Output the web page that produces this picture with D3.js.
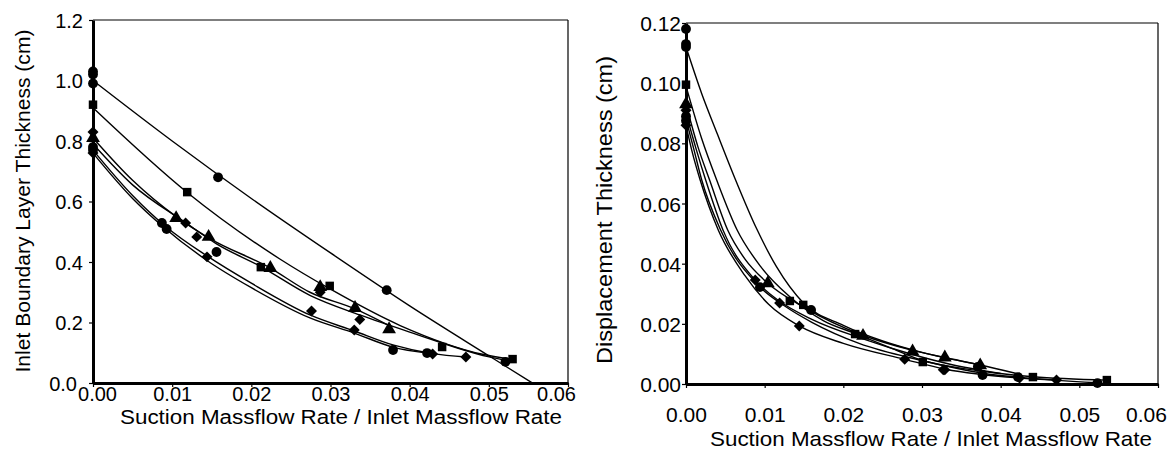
<!DOCTYPE html>
<html>
<head>
<meta charset="utf-8">
<script src="https://cdn.jsdelivr.net/npm/d3@7"></script>
<style>
  html, body { margin: 0; padding: 0; background: #fff; }
  svg text { font-family: "Liberation Sans", Arial, Helvetica, sans-serif; fill: #000; }
</style>
</head>
<body>
<svg id="chart" width="1167" height="458"></svg>
<script>
// ---------------- data ----------------
const xTicks = [0, 0.01, 0.02, 0.03, 0.04, 0.05, 0.06];
const leftYTicks = [0, 0.2, 0.4, 0.6, 0.8, 1.0, 1.2];
const rightYTicks = [0, 0.02, 0.04, 0.06, 0.08, 0.10, 0.12];
const xTitle = "Suction Massflow Rate / Inlet Massflow Rate";
const leftYTitle = "Inlet Boundary Layer Thickness (cm)";
const rightYTitle = "Displacement Thickness (cm)";

const shapes = ["circle", "square", "triangle", "diamond", "diamond", "circle"];

// measured points, left panel (boundary layer thickness, cm)
const leftPts = [
  [[0, 1.03], [0, 1.02], [0, 0.99], [0.0158, 0.68], [0.0371, 0.307]],
  [[0, 0.92], [0.0119, 0.631], [0.0212, 0.383], [0.0299, 0.321], [0.0441, 0.119], [0.0530, 0.079]],
  [[0, 0.81], [0.0105, 0.545], [0.0146, 0.483], [0.0224, 0.380], [0.0287, 0.317], [0.0331, 0.248], [0.0374, 0.178]],
  [[0, 0.83], [0.0117, 0.529], [0.0131, 0.483], [0.0287, 0.300], [0.0337, 0.210]],
  [[0, 0.76], [0.0144, 0.417], [0.0276, 0.238], [0.0330, 0.175], [0.0429, 0.096], [0.0471, 0.086]],
  [[0, 0.78], [0, 0.77], [0.0087, 0.529], [0.0093, 0.509], [0.0156, 0.433], [0.0379, 0.109], [0.0422, 0.099], [0.0521, 0.070]]
];
// fitted curves, left panel
const leftFits = [
  [[0, 1.0], [0.01, 0.80], [0.02, 0.61], [0.03, 0.43], [0.04, 0.255], [0.05, 0.09], [0.0555, 0.0]],
  [[0, 0.91], [0.0119, 0.63], [0.0236, 0.41], [0.03, 0.31], [0.0388, 0.19], [0.0492, 0.095], [0.053, 0.078]],
  [[0, 0.81], [0.005, 0.67], [0.0105, 0.55], [0.0146, 0.48], [0.0224, 0.38], [0.0274, 0.30], [0.0331, 0.245], [0.0374, 0.19]],
  [[0, 0.79], [0.005, 0.655], [0.0117, 0.53], [0.0156, 0.46], [0.0212, 0.385], [0.0274, 0.29], [0.0337, 0.225], [0.0404, 0.165], [0.0499, 0.087], [0.0521, 0.075]],
  [[0, 0.77], [0.005, 0.62], [0.0093, 0.515], [0.0144, 0.42], [0.02, 0.33], [0.0274, 0.225], [0.033, 0.172], [0.038, 0.125], [0.0429, 0.097], [0.0471, 0.086]],
  [[0, 0.76], [0.005, 0.61], [0.0087, 0.52], [0.0144, 0.405], [0.02, 0.315], [0.0274, 0.215], [0.033, 0.165], [0.038, 0.118], [0.0422, 0.099]]
];
// measured points, right panel (displacement thickness, cm)
const rightPts = [
  [[0, 0.118], [0, 0.113], [0, 0.112], [0.0159, 0.0246], [0.0371, 0.0057]],
  [[0, 0.0995], [0.0132, 0.0276], [0.0149, 0.0263], [0.0215, 0.0166], [0.0301, 0.0073], [0.0441, 0.0023], [0.0535, 0.0013]],
  [[0, 0.093], [0.0104, 0.0335], [0.0225, 0.016], [0.0288, 0.0108], [0.0329, 0.0088], [0.0374, 0.0062]],
  [[0, 0.091], [0.0088, 0.0346], [0.0119, 0.0269], [0.0327, 0.0047]],
  [[0, 0.086], [0.0144, 0.0193], [0.0278, 0.0082], [0.0329, 0.0047], [0.0424, 0.0020], [0.0471, 0.0013]],
  [[0, 0.089], [0, 0.0875], [0.0094, 0.0322], [0.0377, 0.0030], [0.0422, 0.0023], [0.0523, 0.0003]]
];
// fitted curves, right panel
const rightFits = [
  [[0, 0.112], [0.002, 0.0965], [0.004, 0.083], [0.0062, 0.0685], [0.009, 0.0515], [0.0115, 0.039], [0.0149, 0.027], [0.02, 0.0195], [0.025, 0.0143], [0.03, 0.0105], [0.0371, 0.0065]],
  [[0, 0.099], [0.002, 0.0815], [0.0039, 0.0678], [0.0065, 0.0512], [0.0095, 0.039], [0.0132, 0.029], [0.0175, 0.021], [0.0215, 0.0168], [0.026, 0.012], [0.0301, 0.0078], [0.037, 0.0045], [0.0441, 0.0024], [0.0535, 0.0013]],
  [[0, 0.093], [0.0015, 0.079], [0.003, 0.0678], [0.0053, 0.0512], [0.0075, 0.0415], [0.0104, 0.0335], [0.015, 0.0255], [0.0225, 0.0162], [0.0288, 0.0112], [0.0329, 0.0088], [0.0374, 0.0063], [0.042, 0.0035]],
  [[0, 0.090], [0.0013, 0.078], [0.0025, 0.0678], [0.0047, 0.0512], [0.0088, 0.0345], [0.0119, 0.0275], [0.016, 0.0215], [0.0225, 0.015], [0.0288, 0.0098], [0.0337, 0.0065], [0.04, 0.0035]],
  [[0, 0.086], [0.0008, 0.077], [0.0018, 0.0678], [0.0041, 0.0512], [0.0075, 0.036], [0.0105, 0.0265], [0.0144, 0.0193], [0.02, 0.0135], [0.0278, 0.0082], [0.033, 0.0049], [0.0424, 0.002], [0.0471, 0.0013]],
  [[0, 0.088], [0.001, 0.078], [0.002, 0.0678], [0.0044, 0.0512], [0.0093, 0.0325], [0.0125, 0.026], [0.016, 0.0205], [0.022, 0.0135], [0.03, 0.0078], [0.0379, 0.0035], [0.0422, 0.0023], [0.0523, 0.0004]]
];

// ---------------- drawing ----------------
const svg = d3.select("#chart");

const panels = [
  { x0: 93, x1: 568, yBot: 383, yTop: 20, yMax: 1.2, yTicks: leftYTicks, yFmt: d3.format(".1f"),
    pts: leftPts, fits: leftFits, yTitle: leftYTitle, yTitleX: 23, yTitleC: 201, font: 20,
    tickLabelDy: 18, xTitleY: 424, xTitleX0: 120, xTitleX1: 562, yLabelGap: 10, yTitleLen: 343, yTitleFont: 20.5,
    firstXdx: 4, firstYdx: -6 },
  { x0: 686, x1: 1158, yBot: 384, yTop: 23, yMax: 0.12, yTicks: rightYTicks, yFmt: d3.format(".2f"),
    pts: rightPts, fits: rightFits, yTitle: rightYTitle, yTitleX: 604, yTitleC: 210, font: 21,
    tickLabelDy: 38, xTitleY: 446, xTitleX0: 710, xTitleX1: 1152, yLabelGap: 5, yTitleLen: 308, yTitleFont: 22,
    firstXdx: 0, firstYdx: 0 }
];

const symbolFor = {
  circle: d3.symbol().type(d3.symbolCircle).size(76),
  square: d3.symbol().type(d3.symbolSquare).size(72),
  triangle: d3.symbol().type(d3.symbolTriangle).size(82),
  diamond: d3.symbol().type(d3.symbolSquare).size(60)
};

panels.forEach(p => {
  const x = d3.scaleLinear().domain([0, 0.06]).range([p.x0, p.x1]);
  const y = d3.scaleLinear().domain([0, p.yMax]).range([p.yBot, p.yTop]);
  const g = svg.append("g");

  // frame: thin top and right borders
  g.append("line").attr("x1", x(0)).attr("x2", x(0.06)).attr("y1", y(p.yMax)).attr("y2", y(p.yMax))
    .attr("stroke", "#000").attr("stroke-width", 1.2);
  g.append("line").attr("x1", x(0.06)).attr("x2", x(0.06)).attr("y1", y(p.yMax)).attr("y2", y(0))
    .attr("stroke", "#000").attr("stroke-width", 1.2);

  // fitted curves
  const line = d3.line().x(d => x(d[0])).y(d => y(d[1])).curve(d3.curveMonotoneX);
  p.fits.forEach(f => {
    g.append("path").attr("d", line(f)).attr("fill", "none")
      .attr("stroke", "#000").attr("stroke-width", 1.4);
  });

  // markers
  p.pts.forEach((s, i) => {
    const shape = shapes[i];
    g.append("g").selectAll("path").data(s).join("path")
      .attr("d", symbolFor[shape]())
      .attr("transform", d => `translate(${x(d[0])},${y(d[1])})` + (shape === "diamond" ? " rotate(45)" : ""))
      .attr("fill", "#000");
  });

  // axes
  const xAxis = d3.axisBottom(x).tickValues(xTicks).tickFormat(d3.format(".2f")).tickSize(4).tickSizeOuter(0);
  const gx = g.append("g").attr("transform", `translate(0,${y(0)})`).call(xAxis);
  gx.select(".domain").attr("stroke-width", 3);
  gx.selectAll(".tick line").attr("stroke-width", 1.2);
  gx.selectAll(".tick text").attr("font-size", p.font).attr("y", p.tickLabelDy).attr("dy", 0)
    .attr("font-family", "Liberation Sans, Arial, sans-serif")
    .attr("dx", (d, i) => i === xTicks.length - 1 ? -12 : (i === 0 ? p.firstXdx : 0));

  const yAxis = d3.axisLeft(y).tickValues(p.yTicks).tickFormat(p.yFmt).tickSize(4).tickSizeOuter(0);
  const gy = g.append("g").attr("transform", `translate(${x(0)},0)`).call(yAxis);
  gy.select(".domain").attr("stroke-width", 3);
  gy.selectAll(".tick line").attr("stroke-width", 1.2);
  gy.selectAll(".tick text").attr("font-size", p.font).attr("x", -p.yLabelGap).attr("dy", "0.36em")
    .attr("font-family", "Liberation Sans, Arial, sans-serif")
    .attr("dx", (d, i) => i === 0 ? p.firstYdx : 0);

  // titles
  g.append("text").attr("x", (p.xTitleX0 + p.xTitleX1) / 2).attr("y", p.xTitleY)
    .attr("text-anchor", "middle").attr("font-size", p.font)
    .attr("textLength", p.xTitleX1 - p.xTitleX0).attr("lengthAdjust", "spacingAndGlyphs")
    .text(xTitle);
  g.append("text")
    .attr("transform", `translate(${p.yTitleX},${p.yTitleC}) rotate(-90)`)
    .attr("text-anchor", "middle").attr("dy", "0.35em").attr("font-size", p.yTitleFont)
    .attr("textLength", p.yTitleLen).attr("lengthAdjust", "spacingAndGlyphs")
    .text(p.yTitle);
});
</script>
</body>
</html>
